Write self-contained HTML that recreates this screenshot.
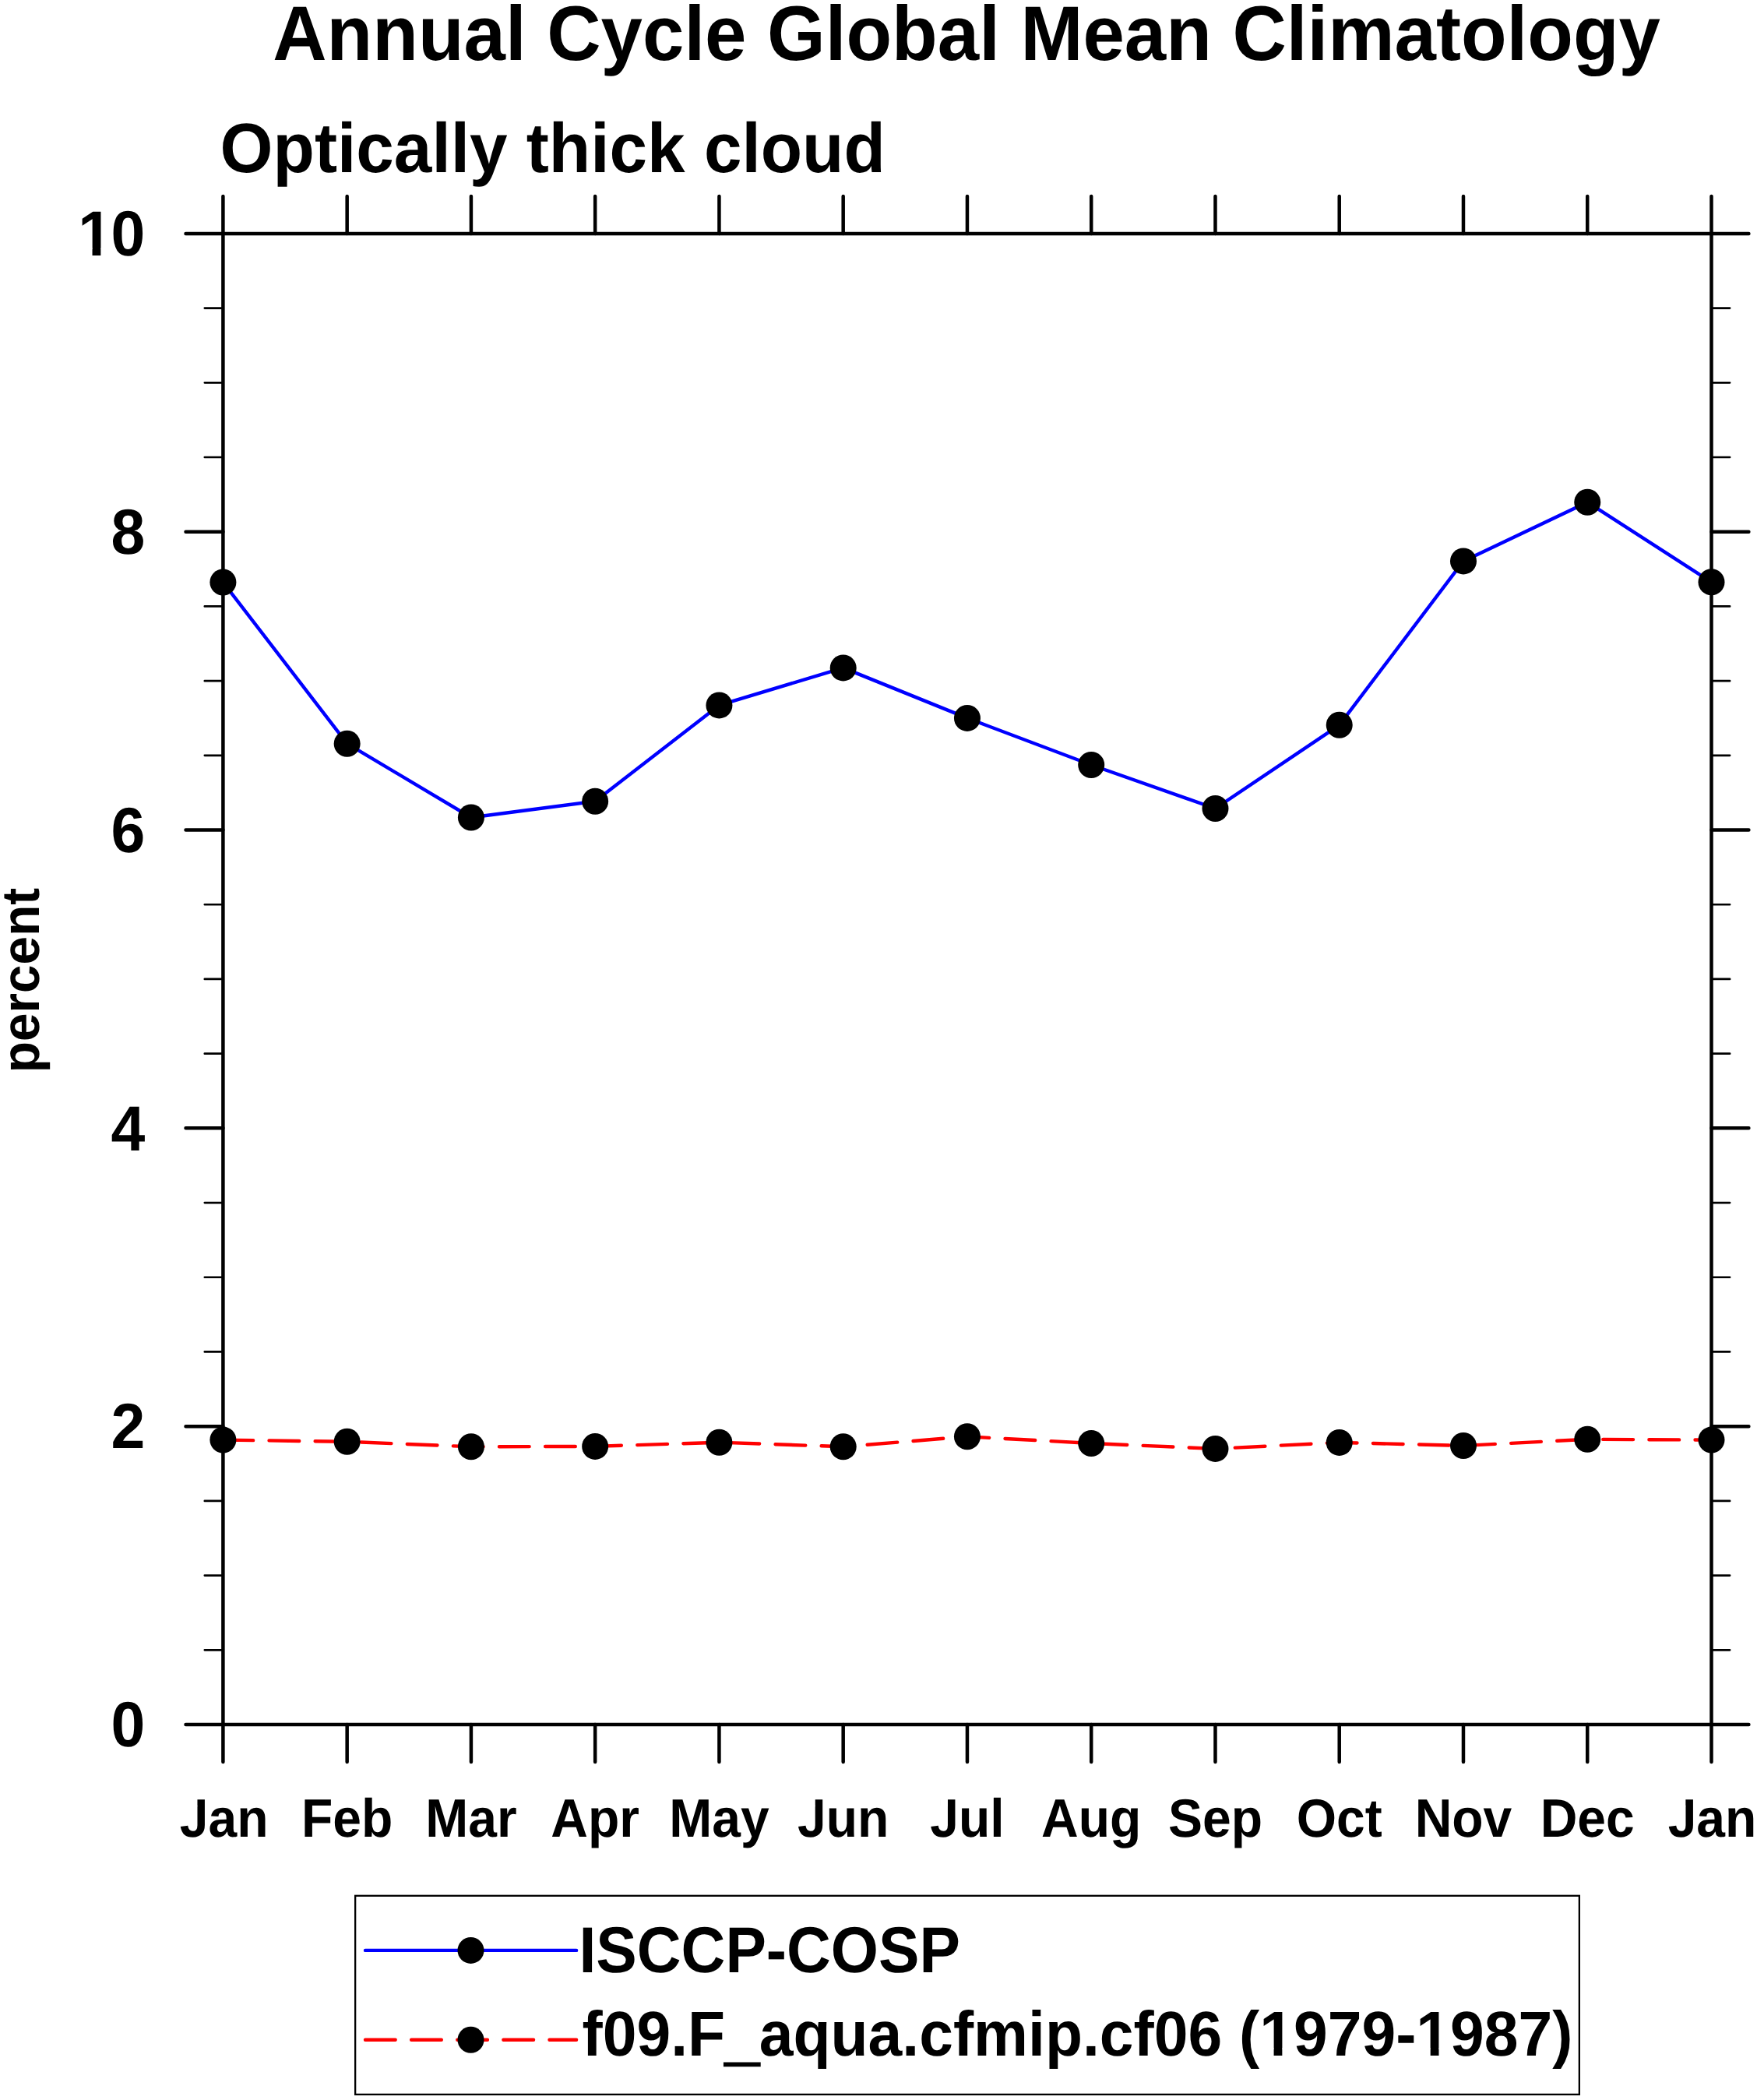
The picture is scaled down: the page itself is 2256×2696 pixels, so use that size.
<!DOCTYPE html>
<html lang="en"><head><meta charset="utf-8"><title>Annual Cycle Global Mean Climatology</title>
<style>
html,body{margin:0;padding:0;background:#fff;}
body{width:2256px;height:2696px;overflow:hidden;}
svg{display:block;}
text{font-family:"Liberation Sans", Arial, Helvetica, sans-serif;font-weight:bold;fill:#000;font-kerning:none;text-rendering:geometricPrecision;}
.ax{stroke:#000;stroke-width:4.5;stroke-linecap:round;fill:none;}
.mn{stroke:#000;stroke-width:2.7;stroke-linecap:round;fill:none;}
</style></head><body>
<svg width="2256" height="2696" viewBox="0 0 2256 2696">
<rect width="2256" height="2696" fill="#fff"/>
<text id="title" transform="translate(1241.10 76.50) scale(1.0000 1.0350)" font-size="96.00" text-anchor="middle">Annual Cycle Global Mean Climatology</text>
<text id="sub" transform="translate(282.60 221.40) scale(1.0000 1.0300)" font-size="87.35" text-anchor="start">Optically thick cloud</text>
<g class="ax">
<path d="M286.4 299.9H2197.5M286.4 2214.0H2197.5M286.4 299.9V2214.0M2197.5 299.9V2214.0"/>
<path d="M286.40 299.9V252.00M286.40 2214.0V2261.90M445.66 299.9V252.00M445.66 2214.0V2261.90M604.92 299.9V252.00M604.92 2214.0V2261.90M764.17 299.9V252.00M764.17 2214.0V2261.90M923.43 299.9V252.00M923.43 2214.0V2261.90M1082.69 299.9V252.00M1082.69 2214.0V2261.90M1241.95 299.9V252.00M1241.95 2214.0V2261.90M1401.21 299.9V252.00M1401.21 2214.0V2261.90M1560.47 299.9V252.00M1560.47 2214.0V2261.90M1719.72 299.9V252.00M1719.72 2214.0V2261.90M1878.98 299.9V252.00M1878.98 2214.0V2261.90M2038.24 299.9V252.00M2038.24 2214.0V2261.90M2197.50 299.9V252.00M2197.50 2214.0V2261.90M286.4 2214.00H238.50M2197.5 2214.00H2245.40M286.4 1831.18H238.50M2197.5 1831.18H2245.40M286.4 1448.36H238.50M2197.5 1448.36H2245.40M286.4 1065.54H238.50M2197.5 1065.54H2245.40M286.4 682.72H238.50M2197.5 682.72H2245.40M286.4 299.90H238.50M2197.5 299.90H2245.40"/>
</g>
<path class="mn" d="M286.4 2118.30H262.80M2197.5 2118.30H2221.10M286.4 2022.59H262.80M2197.5 2022.59H2221.10M286.4 1926.88H262.80M2197.5 1926.88H2221.10M286.4 1735.47H262.80M2197.5 1735.47H2221.10M286.4 1639.77H262.80M2197.5 1639.77H2221.10M286.4 1544.07H262.80M2197.5 1544.07H2221.10M286.4 1352.66H262.80M2197.5 1352.66H2221.10M286.4 1256.95H262.80M2197.5 1256.95H2221.10M286.4 1161.25H262.80M2197.5 1161.25H2221.10M286.4 969.84H262.80M2197.5 969.84H2221.10M286.4 874.13H262.80M2197.5 874.13H2221.10M286.4 778.42H262.80M2197.5 778.42H2221.10M286.4 587.02H262.80M2197.5 587.02H2221.10M286.4 491.31H262.80M2197.5 491.31H2221.10M286.4 395.61H262.80M2197.5 395.61H2221.10"/>
<g id="ylabs">
<text transform="translate(186.30 2242.30) scale(1.0000 1.0400)" font-size="78.80" text-anchor="end">0</text>
<text transform="translate(186.30 1859.48) scale(1.0000 1.0400)" font-size="78.80" text-anchor="end">2</text>
<text transform="translate(186.30 1476.66) scale(1.0000 1.0400)" font-size="78.80" text-anchor="end">4</text>
<text transform="translate(186.30 1093.84) scale(1.0000 1.0400)" font-size="78.80" text-anchor="end">6</text>
<text transform="translate(186.30 711.02) scale(1.0000 1.0400)" font-size="78.80" text-anchor="end">8</text>
<text transform="translate(186.30 328.20) scale(1.0000 1.0400)" font-size="78.80" text-anchor="end">1<tspan dx="-1.5">0</tspan></text>
</g>
<g id="xlabs">
<text transform="translate(287.60 2357.70) scale(1.0000 1.0500)" font-size="66.00" text-anchor="middle">Jan</text>
<text transform="translate(445.66 2357.70) scale(1.0000 1.0500)" font-size="66.00" text-anchor="middle">Feb</text>
<text transform="translate(604.92 2357.70) scale(1.0000 1.0500)" font-size="66.00" text-anchor="middle">Mar</text>
<text transform="translate(764.17 2357.70) scale(1.0000 1.0500)" font-size="66.00" text-anchor="middle">Apr</text>
<text transform="translate(923.43 2357.70) scale(1.0000 1.0500)" font-size="66.00" text-anchor="middle">May</text>
<text transform="translate(1082.69 2357.70) scale(1.0000 1.0500)" font-size="66.00" text-anchor="middle">Jun</text>
<text transform="translate(1241.95 2357.70) scale(1.0000 1.0500)" font-size="66.00" text-anchor="middle">Jul</text>
<text transform="translate(1401.21 2357.70) scale(1.0000 1.0500)" font-size="66.00" text-anchor="middle">Aug</text>
<text transform="translate(1560.47 2357.70) scale(1.0000 1.0500)" font-size="66.00" text-anchor="middle">Sep</text>
<text transform="translate(1719.72 2357.70) scale(1.0000 1.0500)" font-size="66.00" text-anchor="middle">Oct</text>
<text transform="translate(1878.98 2357.70) scale(1.0000 1.0500)" font-size="66.00" text-anchor="middle">Nov</text>
<text transform="translate(2038.24 2357.70) scale(1.0000 1.0500)" font-size="66.00" text-anchor="middle">Dec</text>
<text transform="translate(2198.50 2357.70) scale(1.0000 1.0500)" font-size="66.00" text-anchor="middle">Jan</text>
</g>
<text id="pct" transform="translate(49.50 1258.50) rotate(-90) scale(1.0000 1.0400)" font-size="65.70" text-anchor="middle">percent</text>
<polyline points="286.40,747.50 445.66,954.70 604.92,1049.50 764.17,1028.70 923.43,905.40 1082.69,857.40 1241.95,921.90 1401.21,982.00 1560.47,1038.00 1719.72,930.80 1878.98,720.40 2038.24,644.70 2197.50,747.30" fill="none" stroke="#0000ff" stroke-width="4.4" stroke-linejoin="round" stroke-linecap="round"/>
<polyline points="286.40,1848.60 445.66,1850.80 604.92,1857.30 764.17,1856.90 923.43,1851.70 1082.69,1857.30 1241.95,1844.30 1401.21,1853.00 1560.47,1859.90 1719.72,1851.90 1878.98,1856.00 2038.24,1847.80 2197.50,1848.60" fill="none" stroke="#ff0000" stroke-width="4.4" stroke-linejoin="round" stroke-linecap="round" stroke-dasharray="38.7 20.42"/>
<g fill="#000">
<circle cx="286.40" cy="747.50" r="17.0"/>
<circle cx="445.66" cy="954.70" r="17.0"/>
<circle cx="604.92" cy="1049.50" r="17.0"/>
<circle cx="764.17" cy="1028.70" r="17.0"/>
<circle cx="923.43" cy="905.40" r="17.0"/>
<circle cx="1082.69" cy="857.40" r="17.0"/>
<circle cx="1241.95" cy="921.90" r="17.0"/>
<circle cx="1401.21" cy="982.00" r="17.0"/>
<circle cx="1560.47" cy="1038.00" r="17.0"/>
<circle cx="1719.72" cy="930.80" r="17.0"/>
<circle cx="1878.98" cy="720.40" r="17.0"/>
<circle cx="2038.24" cy="644.70" r="17.0"/>
<circle cx="2197.50" cy="747.30" r="17.0"/>
<circle cx="286.40" cy="1848.60" r="17.0"/>
<circle cx="445.66" cy="1850.80" r="17.0"/>
<circle cx="604.92" cy="1857.30" r="17.0"/>
<circle cx="764.17" cy="1856.90" r="17.0"/>
<circle cx="923.43" cy="1851.70" r="17.0"/>
<circle cx="1082.69" cy="1857.30" r="17.0"/>
<circle cx="1241.95" cy="1844.30" r="17.0"/>
<circle cx="1401.21" cy="1853.00" r="17.0"/>
<circle cx="1560.47" cy="1859.90" r="17.0"/>
<circle cx="1719.72" cy="1851.90" r="17.0"/>
<circle cx="1878.98" cy="1856.00" r="17.0"/>
<circle cx="2038.24" cy="1847.80" r="17.0"/>
<circle cx="2197.50" cy="1848.60" r="17.0"/>
</g>
<rect x="456.15" y="2433.8" width="1571.7" height="255.1" fill="#fff" stroke="#000" stroke-width="2.3"/>
<path d="M469 2503.9H740.1" stroke="#0000ff" stroke-width="4.4" stroke-linecap="round" fill="none"/>
<path d="M469 2618.8H740.1" stroke="#ff0000" stroke-width="4.4" stroke-linecap="round" stroke-dasharray="38.7 20.42" fill="none"/>
<circle cx="604.5" cy="2503.9" r="17.0"/><circle cx="604.5" cy="2618.8" r="17.0"/>
<text id="leg1" transform="translate(743.50 2532.40) scale(1.0000 1.0600)" font-size="78.65" text-anchor="start">ISCCP-COSP</text>
<text id="leg2" transform="translate(747.50 2639.00) scale(1.0000 1.0350)" font-size="78.65" text-anchor="start">f09.F<tspan dy="3.2" stroke="#000" stroke-width="2.6">_</tspan><tspan dy="-3.2">aqua.cfmip.cf06 (1979-1987)</tspan></text>
<g transform="translate(186.30 328.20) scale(1 1.0400)" fill="#fff"><rect x="-81.89" y="-9.24" width="14.13" height="9.94"/><rect x="-56.95" y="-9.24" width="13.13" height="9.94"/></g>
<g transform="translate(747.50 2639.00) scale(1 1.0350)" fill="#fff"><rect x="873.96" y="-9.23" width="14.10" height="9.93"/><rect x="898.85" y="-9.23" width="13.10" height="9.93"/></g>
<g transform="translate(747.50 2639.00) scale(1 1.0350)" fill="#fff"><rect x="1075.08" y="-9.23" width="14.10" height="9.93"/><rect x="1099.98" y="-9.23" width="13.10" height="9.93"/></g>
<g transform="translate(287.60 2357.70) scale(1 1.0500)" fill="#fff"><rect x="-43.90" y="-46.11" width="9.76" height="9.34"/></g>
<g transform="translate(1082.69 2357.70) scale(1 1.0500)" fill="#fff"><rect x="-45.70" y="-46.11" width="9.76" height="9.34"/></g>
<g transform="translate(1241.95 2357.70) scale(1 1.0500)" fill="#fff"><rect x="-34.72" y="-46.11" width="9.76" height="9.34"/></g>
<g transform="translate(2198.50 2357.70) scale(1 1.0500)" fill="#fff"><rect x="-43.90" y="-46.11" width="9.76" height="9.34"/></g>
</svg></body></html>
